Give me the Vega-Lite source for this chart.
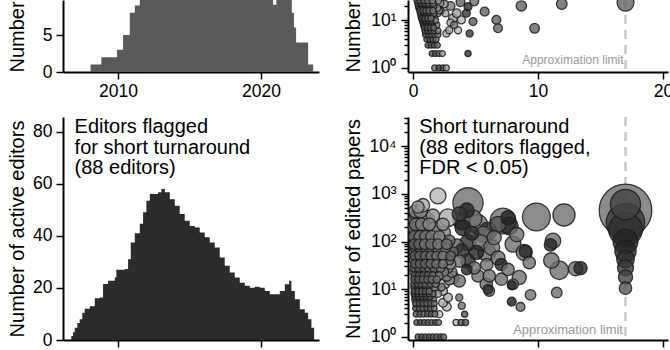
{
 "$schema": "https://vega.github.io/schema/vega-lite/v6.json",
 "background": "white",
 "padding": {"left": 7, "top": -4, "right": 0, "bottom": 0},
 "config": {
  "view": {"stroke": null},
  "font": "Liberation Sans",
  "axis": {"domainColor": "#000", "domainWidth": 2, "tickColor": "#000", "tickWidth": 1.5, "tickSize": 7, "labelFontSize": 17.5, "labelColor": "#000", "labelFont": "Liberation Sans", "titleFont": "Liberation Sans", "titleFontSize": 20, "titleFontWeight": "normal", "titleColor": "#000", "grid": false, "labelFlush": false, "labelOverlap": false}
 },
 "datasets": {
  "tl": [{"year":2008.08,"n":1},{"year":2008.83,"n":2},{"year":2009.93,"n":3},{"year":2010.35,"n":5},{"year":2010.82,"n":8},{"year":2011.17,"n":9},{"year":2011.52,"n":12},{"year":2012.0,"n":16},{"year":2013.0,"n":19},{"year":2014.5,"n":21},{"year":2016.0,"n":20},{"year":2018.0,"n":18},{"year":2020.0,"n":15},{"year":2020.84,"n":9.1},{"year":2021.07,"n":14},{"year":2022.15,"n":8},{"year":2022.3,"n":6},{"year":2022.45,"n":4},{"year":2023.29,"n":1},{"year":2023.64,"n":0}],
  "bl": [{"year":2006.73,"n":1.5},{"year":2006.85,"n":3},{"year":2006.97,"n":4.7},{"year":2007.15,"n":6.5},{"year":2007.32,"n":8},{"year":2007.5,"n":10.5},{"year":2007.67,"n":12},{"year":2008.02,"n":13},{"year":2008.37,"n":16},{"year":2008.72,"n":16.3},{"year":2008.95,"n":21.5},{"year":2009.3,"n":22.7},{"year":2009.77,"n":24},{"year":2009.88,"n":27},{"year":2010.47,"n":27.3},{"year":2010.7,"n":31},{"year":2010.89,"n":37.4},{"year":2011.17,"n":41},{"year":2011.52,"n":44.6},{"year":2011.75,"n":49},{"year":2011.98,"n":53.5},{"year":2012.22,"n":56},{"year":2012.8,"n":56.7},{"year":2013.03,"n":58},{"year":2013.27,"n":56.7},{"year":2013.62,"n":54},{"year":2013.97,"n":51.5},{"year":2014.31,"n":48.4},{"year":2014.66,"n":45.8},{"year":2015.01,"n":43.8},{"year":2015.36,"n":43.2},{"year":2015.71,"n":41.3},{"year":2016.06,"n":39.4},{"year":2016.41,"n":37.4},{"year":2016.76,"n":35.5},{"year":2017.11,"n":31.7},{"year":2017.46,"n":28.5},{"year":2017.81,"n":25.9},{"year":2018.16,"n":24},{"year":2018.51,"n":22},{"year":2018.86,"n":20.8},{"year":2019.21,"n":20.1},{"year":2019.56,"n":20.4},{"year":2019.91,"n":20.1},{"year":2020.26,"n":18.8},{"year":2020.61,"n":17.6},{"year":2020.96,"n":17.6},{"year":2021.31,"n":18.8},{"year":2021.66,"n":21.4},{"year":2021.96,"n":22.7},{"year":2022.12,"n":18.8},{"year":2022.36,"n":15.6},{"year":2022.71,"n":11.8},{"year":2023.06,"n":10.5},{"year":2023.29,"n":8},{"year":2023.52,"n":4.7},{"year":2023.71,"n":0}],
  "tr": [
   {"x":1.73,"y":1,"w":11,"t":0.5},{"x":2.08,"y":1,"w":11,"t":0.7},{"x":2.4,"y":1,"w":11,"t":0.7},{"x":2.67,"y":1,"w":11,"t":0.3},
   {"x":1.52,"y":2,"w":11,"t":0.6},{"x":1.79,"y":2,"w":11,"t":0.6},{"x":2.08,"y":2,"w":11,"t":0.5},{"x":2.35,"y":2,"w":11,"t":0.25},{"x":4.4,"y":2,"w":12,"t":0.75},
   {"x":1.2,"y":3,"w":11,"t":0.65},{"x":1.45,"y":3,"w":11,"t":0.6},{"x":1.7,"y":3,"w":11,"t":0.6},{"x":1.95,"y":3,"w":11,"t":0.5},
   {"x":1.1,"y":4,"w":11,"t":0.65},{"x":1.35,"y":4,"w":11,"t":0.6},{"x":1.6,"y":4,"w":11,"t":0.55},{"x":1.85,"y":4,"w":11,"t":0.5},
   {"x":1.0,"y":5,"w":11,"t":0.65},{"x":1.25,"y":5,"w":11,"t":0.6},{"x":1.5,"y":5,"w":11,"t":0.55},{"x":1.75,"y":5,"w":11,"t":0.5},{"x":2.0,"y":5,"w":11,"t":0.45},
   {"x":0.95,"y":6,"w":11,"t":0.65},{"x":1.2,"y":6,"w":11,"t":0.6},{"x":1.45,"y":6,"w":11,"t":0.55},{"x":1.7,"y":6,"w":11,"t":0.5},{"x":2.0,"y":6,"w":11,"t":0.45},
   {"x":0.9,"y":7,"w":11,"t":0.65},{"x":1.15,"y":7,"w":11,"t":0.6},{"x":1.4,"y":7,"w":11,"t":0.55},{"x":1.65,"y":7,"w":11,"t":0.5},
   {"x":0.85,"y":8,"w":12,"t":0.65},{"x":1.1,"y":8,"w":12,"t":0.6},{"x":1.35,"y":8,"w":12,"t":0.55},{"x":1.6,"y":8,"w":12,"t":0.5},{"x":1.9,"y":8,"w":12,"t":0.45},
   {"x":0.8,"y":9,"w":12,"t":0.65},{"x":1.05,"y":9,"w":12,"t":0.6},{"x":1.3,"y":9,"w":12,"t":0.55},{"x":1.55,"y":9,"w":12,"t":0.5},
   {"x":0.75,"y":10,"w":12,"t":0.65},{"x":1.0,"y":10,"w":12,"t":0.6},{"x":1.25,"y":10,"w":12,"t":0.55},{"x":1.5,"y":10,"w":12,"t":0.5},{"x":1.8,"y":10,"w":12,"t":0.4},
   {"x":0.7,"y":11,"w":12,"t":0.65},{"x":0.95,"y":11,"w":12,"t":0.6},{"x":1.2,"y":11,"w":12,"t":0.55},{"x":1.45,"y":11,"w":12,"t":0.5},
   {"x":0.65,"y":12,"w":13,"t":0.65},{"x":0.9,"y":12,"w":13,"t":0.6},{"x":1.15,"y":12,"w":13,"t":0.55},{"x":1.4,"y":12,"w":13,"t":0.5},{"x":1.7,"y":12,"w":13,"t":0.4},
   {"x":0.6,"y":14,"w":13,"t":0.65},{"x":0.85,"y":14,"w":13,"t":0.6},{"x":1.1,"y":14,"w":13,"t":0.55},{"x":1.35,"y":14,"w":13,"t":0.5},{"x":1.65,"y":14,"w":13,"t":0.45},{"x":2.0,"y":14,"w":14,"t":0.35},
   {"x":0.55,"y":16,"w":13,"t":0.65},{"x":0.8,"y":16,"w":13,"t":0.6},{"x":1.05,"y":16,"w":13,"t":0.55},{"x":1.3,"y":16,"w":13,"t":0.5},{"x":1.6,"y":16,"w":13,"t":0.45},{"x":2.1,"y":16,"w":14,"t":0.35},
   {"x":0.5,"y":18,"w":14,"t":0.65},{"x":0.75,"y":18,"w":14,"t":0.6},{"x":1.0,"y":18,"w":14,"t":0.55},{"x":1.3,"y":18,"w":14,"t":0.5},{"x":1.6,"y":18,"w":14,"t":0.45},{"x":1.95,"y":18,"w":14,"t":0.35},
   {"x":0.45,"y":20,"w":14,"t":0.65},{"x":0.7,"y":20,"w":14,"t":0.6},{"x":1.0,"y":20,"w":14,"t":0.55},{"x":1.3,"y":20,"w":14,"t":0.5},{"x":1.65,"y":20,"w":14,"t":0.45},
   {"x":0.4,"y":23,"w":14,"t":0.65},{"x":0.65,"y":23,"w":14,"t":0.6},{"x":0.95,"y":23,"w":14,"t":0.55},{"x":1.25,"y":23,"w":14,"t":0.5},{"x":1.6,"y":23,"w":14,"t":0.45},{"x":2.2,"y":23,"w":16,"t":0.35},
   {"x":0.35,"y":26,"w":14,"t":0.65},{"x":0.6,"y":26,"w":14,"t":0.6},{"x":0.9,"y":26,"w":14,"t":0.55},{"x":1.2,"y":26,"w":14,"t":0.5},{"x":1.55,"y":26,"w":14,"t":0.45},{"x":2.0,"y":26,"w":16,"t":0.35},
   {"x":2.67,"y":5.3,"w":16,"t":0.25},{"x":2.9,"y":6.2,"w":16,"t":0.3},{"x":3.6,"y":6.2,"w":16,"t":0.2},{"x":3.87,"y":10.2,"w":20,"t":0.2},{"x":3.2,"y":11,"w":25,"t":0.25},{"x":3.5,"y":14,"w":25,"t":0.3},{"x":2.6,"y":14,"w":16,"t":0.3},{"x":3.0,"y":9,"w":16,"t":0.25},{"x":3.3,"y":8,"w":16,"t":0.5},{"x":2.2,"y":16,"w":16,"t":0.35},
   {"x":4.53,"y":5.3,"w":16,"t":0.75},{"x":4.8,"y":9.4,"w":20,"t":0.6},{"x":4.27,"y":14,"w":20,"t":0.75},{"x":4.4,"y":19.3,"w":20,"t":0.8},{"x":4.9,"y":25,"w":25,"t":0.5},{"x":5.73,"y":15.2,"w":25,"t":0.55},{"x":6.67,"y":10.2,"w":25,"t":0.55},{"x":6.8,"y":6.8,"w":25,"t":0.55},{"x":8.67,"y":20,"w":34,"t":0.55},{"x":9.73,"y":6.8,"w":30,"t":0.55},{"x":11.9,"y":22,"w":36,"t":0.55},{"x":17,"y":23.4,"w":90,"t":0.55},{"x":2.5,"y":22,"w":20,"t":0.3},{"x":3.0,"y":20,"w":25,"t":0.45},{"x":3.8,"y":24,"w":25,"t":0.55}
  ],
  "br": [
   {"x":17,"y":450,"w":880,"t":0.5},{"x":17,"y":250,"w":470,"t":0.75},{"x":17,"y":180,"w":360,"t":0.8},{"x":17,"y":600,"w":290,"t":0.7},{"x":17,"y":100,"w":196,"t":0.85},{"x":17,"y":63,"w":144,"t":0.85},{"x":17,"y":43,"w":100,"t":0.8},{"x":17,"y":28,"w":81,"t":0.75},{"x":17,"y":18,"w":64,"t":0.7},{"x":17,"y":10.5,"w":49,"t":0.6},
   {"x":4.4,"y":650,"w":289,"t":0.5},{"x":4.3,"y":450,"w":70,"t":0.85},{"x":3.9,"y":270,"w":100,"t":0.85},{"x":4.0,"y":195,"w":81,"t":0.85},{"x":2.8,"y":316,"w":100,"t":0.25},{"x":2.0,"y":910,"w":81,"t":0.2},{"x":3.7,"y":380,"w":64,"t":0.75},{"x":4.4,"y":95,"w":81,"t":0.8},{"x":3.5,"y":81,"w":64,"t":0.55},{"x":3.9,"y":63,"w":64,"t":0.8},{"x":4.4,"y":39,"w":64,"t":0.8},{"x":3.7,"y":39,"w":49,"t":0.5},{"x":4.3,"y":26,"w":36,"t":0.85},{"x":3.2,"y":17.5,"w":49,"t":0.5},{"x":3.7,"y":15,"w":49,"t":0.5},{"x":3.7,"y":6.7,"w":16,"t":0.5},{"x":3.9,"y":4.5,"w":16,"t":0.5},
   {"x":5.2,"y":230,"w":121,"t":0.5},{"x":5.6,"y":142,"w":81,"t":0.5},{"x":6.0,"y":167,"w":100,"t":0.8},{"x":5.4,"y":95,"w":81,"t":0.5},{"x":5.07,"y":59,"w":64,"t":0.85},{"x":5.9,"y":59,"w":100,"t":0.5},{"x":5.2,"y":19,"w":49,"t":0.5},{"x":5.9,"y":33,"w":49,"t":0.5},{"x":5.86,"y":12.7,"w":49,"t":0.5},{"x":6.1,"y":9.2,"w":36,"t":0.5},{"x":6.0,"y":10,"w":30,"t":0.8},{"x":6.1,"y":19,"w":49,"t":0.5},{"x":6.5,"y":121,"w":64,"t":0.5},{"x":7.06,"y":33,"w":49,"t":0.85},{"x":7.07,"y":16.2,"w":49,"t":0.5},{"x":7.2,"y":270,"w":210,"t":0.5},{"x":7.7,"y":213,"w":100,"t":0.85},{"x":7.6,"y":316,"w":64,"t":0.85},{"x":7.6,"y":26,"w":49,"t":0.5},{"x":8.0,"y":88,"w":81,"t":0.5},{"x":8.0,"y":12.7,"w":36,"t":0.5},{"x":7.9,"y":12,"w":25,"t":0.85},{"x":8.5,"y":17.6,"w":64,"t":0.5},{"x":8.9,"y":59,"w":81,"t":0.5},{"x":9.0,"y":62,"w":49,"t":0.85},{"x":9.3,"y":36,"w":49,"t":0.5},{"x":7.9,"y":5.5,"w":25,"t":0.9},{"x":8.6,"y":4.25,"w":25,"t":0.5},{"x":9.4,"y":7.6,"w":36,"t":0.5},{"x":9.87,"y":328,"w":246,"t":0.5},{"x":12.08,"y":362,"w":156,"t":0.5},{"x":11.2,"y":103,"w":76,"t":0.5},{"x":11.0,"y":85,"w":49,"t":0.85},{"x":11.07,"y":40,"w":77,"t":0.5},{"x":11.7,"y":25,"w":110,"t":0.5},{"x":13.0,"y":27,"w":64,"t":0.5},{"x":13.4,"y":27.6,"w":56,"t":0.85},{"x":11.5,"y":8.5,"w":36,"t":0.5},
   {"x":4.8,"y":300,"w":100,"t":0.5},{"x":6.3,"y":75,"w":81,"t":0.5},{"x":4.7,"y":150,"w":64,"t":0.8},{"x":6.8,"y":45,"w":64,"t":0.5},{"x":4.9,"y":28,"w":49,"t":0.5},{"x":8.3,"y":140,"w":64,"t":0.5},{"x":6.8,"y":230,"w":81,"t":0.6},
   {"x":0.4,"y":1,"w":11,"t":0.6},{"x":0.7,"y":1,"w":11,"t":0.65},{"x":1.0,"y":1,"w":11,"t":0.6},{"x":1.3,"y":1,"w":11,"t":0.65},{"x":1.6,"y":1,"w":11,"t":0.6},{"x":1.9,"y":1,"w":11,"t":0.55},{"x":2.2,"y":1,"w":11,"t":0.6},{"x":2.45,"y":1,"w":11,"t":0.5},
   {"x":0.3,"y":2,"w":11,"t":0.6},{"x":0.6,"y":2,"w":11,"t":0.65},{"x":0.9,"y":2,"w":11,"t":0.6},{"x":1.2,"y":2,"w":11,"t":0.6},{"x":1.5,"y":2,"w":11,"t":0.55},{"x":1.8,"y":2,"w":11,"t":0.6},{"x":2.05,"y":2,"w":11,"t":0.45},{"x":3.45,"y":2,"w":12,"t":0.2},{"x":3.85,"y":2,"w":12,"t":0.6},{"x":4.2,"y":2,"w":12,"t":0.6},
   {"x":0.25,"y":3,"w":11,"t":0.6},{"x":0.55,"y":3,"w":11,"t":0.6},{"x":0.85,"y":3,"w":11,"t":0.55},{"x":1.15,"y":3,"w":11,"t":0.6},{"x":1.45,"y":3,"w":11,"t":0.6},{"x":1.75,"y":3,"w":11,"t":0.5},{"x":2.1,"y":3,"w":16,"t":0.2},{"x":4.13,"y":3,"w":12,"t":0.6},
   {"x":0.2,"y":4,"w":11,"t":0.65},{"x":0.5,"y":4,"w":11,"t":0.6},{"x":0.8,"y":4,"w":11,"t":0.55},{"x":1.1,"y":4,"w":11,"t":0.6},{"x":1.4,"y":4,"w":11,"t":0.55},{"x":1.7,"y":4,"w":11,"t":0.5},{"x":2.7,"y":4.3,"w":25,"t":0.2},
   {"x":0.2,"y":5,"w":11,"t":0.6},{"x":0.5,"y":5,"w":11,"t":0.6},{"x":0.8,"y":5,"w":11,"t":0.6},{"x":1.1,"y":5,"w":11,"t":0.55},{"x":1.4,"y":5,"w":11,"t":0.55},{"x":1.7,"y":5,"w":11,"t":0.5},{"x":2.4,"y":5.2,"w":25,"t":0.25},
   {"x":0.15,"y":6,"w":12,"t":0.65},{"x":0.45,"y":6,"w":12,"t":0.6},{"x":0.75,"y":6,"w":12,"t":0.55},{"x":1.05,"y":6,"w":12,"t":0.6},{"x":1.35,"y":6,"w":12,"t":0.5},{"x":1.65,"y":6,"w":12,"t":0.5},
   {"x":0.15,"y":7,"w":12,"t":0.6},{"x":0.45,"y":7,"w":12,"t":0.6},{"x":0.75,"y":7,"w":12,"t":0.55},{"x":1.05,"y":7,"w":12,"t":0.55},{"x":1.35,"y":7,"w":12,"t":0.5},{"x":2.8,"y":6.7,"w":25,"t":0.25},
   {"x":0.1,"y":8,"w":12,"t":0.65},{"x":0.4,"y":8,"w":12,"t":0.6},{"x":0.7,"y":8,"w":12,"t":0.55},{"x":1.0,"y":8,"w":12,"t":0.6},{"x":1.3,"y":8,"w":12,"t":0.5},{"x":1.6,"y":8,"w":12,"t":0.5},{"x":2.0,"y":8,"w":16,"t":0.3},
   {"x":0.1,"y":9,"w":12,"t":0.6},{"x":0.4,"y":9,"w":12,"t":0.6},{"x":0.7,"y":9,"w":12,"t":0.55},{"x":1.0,"y":9,"w":12,"t":0.55},{"x":1.3,"y":9,"w":12,"t":0.5},{"x":2.4,"y":9.2,"w":25,"t":0.25},
   {"x":0.1,"y":11,"w":16,"t":0.65},{"x":0.4,"y":11,"w":16,"t":0.6},{"x":0.7,"y":11,"w":16,"t":0.55},{"x":1.0,"y":11,"w":16,"t":0.55},{"x":1.3,"y":11,"w":16,"t":0.55},{"x":1.7,"y":11,"w":16,"t":0.5},{"x":2.3,"y":11,"w":16,"t":0.4},
   {"x":0.1,"y":13,"w":16,"t":0.6},{"x":0.4,"y":13,"w":16,"t":0.6},{"x":0.7,"y":13,"w":16,"t":0.55},{"x":1.0,"y":13,"w":16,"t":0.55},{"x":1.4,"y":13,"w":16,"t":0.55},{"x":1.8,"y":13,"w":16,"t":0.5},{"x":2.5,"y":13,"w":36,"t":0.3},
   {"x":0.1,"y":16,"w":16,"t":0.65},{"x":0.45,"y":16,"w":16,"t":0.6},{"x":0.8,"y":16,"w":16,"t":0.55},{"x":1.15,"y":16,"w":16,"t":0.55},{"x":1.5,"y":16,"w":16,"t":0.5},{"x":1.9,"y":16,"w":16,"t":0.5},{"x":2.9,"y":16,"w":36,"t":0.35},
   {"x":0.15,"y":19,"w":20,"t":0.6},{"x":0.5,"y":19,"w":20,"t":0.6},{"x":0.85,"y":19,"w":20,"t":0.55},{"x":1.2,"y":19,"w":20,"t":0.55},{"x":1.6,"y":19,"w":20,"t":0.5},{"x":2.1,"y":19,"w":20,"t":0.45},{"x":2.7,"y":19,"w":36,"t":0.45},
   {"x":0.1,"y":23,"w":25,"t":0.6},{"x":0.45,"y":23,"w":25,"t":0.6},{"x":0.8,"y":23,"w":25,"t":0.55},{"x":1.2,"y":23,"w":25,"t":0.55},{"x":1.6,"y":23,"w":25,"t":0.5},{"x":2.0,"y":23,"w":25,"t":0.5},{"x":2.5,"y":23,"w":25,"t":0.45},{"x":3.1,"y":23,"w":36,"t":0.45},
   {"x":0.1,"y":28,"w":25,"t":0.6},{"x":0.5,"y":28,"w":25,"t":0.55},{"x":0.9,"y":28,"w":25,"t":0.55},{"x":1.3,"y":28,"w":25,"t":0.5},{"x":1.7,"y":28,"w":25,"t":0.5},{"x":2.2,"y":28,"w":25,"t":0.45},{"x":2.8,"y":28,"w":36,"t":0.5},
   {"x":0.15,"y":34,"w":25,"t":0.6},{"x":0.55,"y":34,"w":25,"t":0.55},{"x":0.95,"y":34,"w":25,"t":0.55},{"x":1.4,"y":34,"w":25,"t":0.5},{"x":1.85,"y":34,"w":25,"t":0.5},{"x":2.4,"y":34,"w":25,"t":0.45},{"x":3.0,"y":34,"w":36,"t":0.35},
   {"x":0.1,"y":41,"w":30,"t":0.6},{"x":0.5,"y":41,"w":30,"t":0.55},{"x":0.9,"y":41,"w":30,"t":0.55},{"x":1.35,"y":41,"w":30,"t":0.5},{"x":1.8,"y":41,"w":30,"t":0.5},{"x":2.3,"y":41,"w":30,"t":0.45},{"x":2.9,"y":41,"w":30,"t":0.5},
   {"x":0.15,"y":50,"w":30,"t":0.6},{"x":0.55,"y":50,"w":30,"t":0.55},{"x":1.0,"y":50,"w":30,"t":0.55},{"x":1.45,"y":50,"w":30,"t":0.5},{"x":1.9,"y":50,"w":30,"t":0.5},{"x":2.4,"y":50,"w":30,"t":0.45},{"x":3.0,"y":50,"w":30,"t":0.55},
   {"x":0.1,"y":60,"w":36,"t":0.6},{"x":0.5,"y":60,"w":36,"t":0.55},{"x":0.95,"y":60,"w":36,"t":0.5},{"x":1.4,"y":60,"w":36,"t":0.5},{"x":1.9,"y":60,"w":36,"t":0.5},{"x":2.5,"y":60,"w":36,"t":0.45},{"x":3.2,"y":60,"w":36,"t":0.55},
   {"x":0.2,"y":73,"w":36,"t":0.6},{"x":0.6,"y":73,"w":36,"t":0.55},{"x":1.05,"y":73,"w":36,"t":0.5},{"x":1.5,"y":73,"w":36,"t":0.5},{"x":2.0,"y":73,"w":36,"t":0.45},{"x":2.6,"y":73,"w":36,"t":0.5},
   {"x":0.1,"y":88,"w":36,"t":0.6},{"x":0.5,"y":88,"w":36,"t":0.55},{"x":0.95,"y":88,"w":36,"t":0.5},{"x":1.45,"y":88,"w":36,"t":0.5},{"x":2.0,"y":88,"w":36,"t":0.45},{"x":2.7,"y":88,"w":36,"t":0.5},
   {"x":0.2,"y":105,"w":42,"t":0.55},{"x":0.65,"y":105,"w":42,"t":0.5},{"x":1.1,"y":105,"w":42,"t":0.5},{"x":1.6,"y":105,"w":42,"t":0.45},{"x":2.2,"y":105,"w":42,"t":0.45},{"x":2.9,"y":105,"w":42,"t":0.55},
   {"x":0.1,"y":128,"w":42,"t":0.55},{"x":0.55,"y":128,"w":42,"t":0.5},{"x":1.0,"y":128,"w":42,"t":0.5},{"x":1.5,"y":128,"w":42,"t":0.45},{"x":2.1,"y":128,"w":42,"t":0.4},
   {"x":0.2,"y":155,"w":49,"t":0.55},{"x":0.7,"y":155,"w":49,"t":0.5},{"x":1.2,"y":155,"w":49,"t":0.45},{"x":1.8,"y":155,"w":49,"t":0.45},{"x":2.5,"y":155,"w":49,"t":0.4},
   {"x":0.1,"y":190,"w":49,"t":0.55},{"x":0.55,"y":190,"w":49,"t":0.5},{"x":1.05,"y":190,"w":49,"t":0.45},{"x":1.7,"y":190,"w":49,"t":0.4},
   {"x":0.2,"y":230,"w":49,"t":0.5},{"x":0.7,"y":230,"w":49,"t":0.45},{"x":1.3,"y":230,"w":49,"t":0.4},{"x":2.4,"y":230,"w":49,"t":0.35},
   {"x":0.15,"y":290,"w":56,"t":0.5},{"x":0.6,"y":290,"w":56,"t":0.45},{"x":1.2,"y":290,"w":56,"t":0.4},
   {"x":0.3,"y":350,"w":56,"t":0.45},{"x":0.9,"y":350,"w":56,"t":0.4},{"x":1.6,"y":350,"w":56,"t":0.35},
   {"x":0.2,"y":430,"w":56,"t":0.45},{"x":0.6,"y":430,"w":56,"t":0.4},{"x":0.4,"y":530,"w":49,"t":0.35},{"x":0.8,"y":580,"w":56,"t":0.25}
  ]
 },
 "spacing": 8,
 "vconcat": [
  {"spacing": 24, "hconcat": [
   {"width": 256, "height": 72, "data": {"name": "tl"},
    "mark": {"type": "area", "interpolate": "step-after", "color": "#5a5a5a", "clip": true},
    "encoding": {
     "x": {"field": "year", "type": "quantitative", "scale": {"domain": [2006.15, 2024.05], "nice": false, "zero": false}, "axis": {"values": [2010, 2020], "format": "d", "title": null, "labelPadding": 3}},
     "y": {"field": "n", "type": "quantitative", "scale": {"domain": [0, 9.73], "nice": false}, "axis": {"values": [0, 5], "title": "Number", "titleAnchor": "start", "minExtent": 31, "maxExtent": 31, "labelPadding": 4, "titlePadding": 4.5}}
    }},
   {"width": 260, "height": 72, "layer": [
    {"data": {"values": [{}]}, "mark": {"type": "rule", "color": "#c8c8c8", "strokeWidth": 2.5, "strokeDash": [9, 6]}, "encoding": {"x": {"datum": 17}}},
    {"data": {"name": "tr"}, "mark": {"type": "circle", "stroke": "#1c1c1c", "strokeWidth": 1.3, "strokeOpacity": 0.85, "fillOpacity": 0.8, "clip": true},
     "encoding": {
      "x": {"field": "x", "type": "quantitative", "scale": {"domain": [-0.4, 20.4], "nice": false, "zero": false}, "axis": {"values": [0, 10, 20], "title": null, "labelPadding": 3}},
      "y": {"field": "y", "type": "quantitative", "scale": {"type": "log", "domain": [0.82, 26.7], "nice": false}, "axis": {"title": "Number", "titleAnchor": "start", "values": [1,2,3,4,5,6,7,8,9,10,20], "labelExpr": "datum.value == 1 ? '10⁰' : datum.value == 10 ? '10¹' : ''", "tickSize": {"condition": {"test": "datum.value == 1 || datum.value == 10", "value": 7}, "value": 4}, "minExtent": 38, "maxExtent": 38, "labelPadding": 5, "titlePadding": 7}},
      "size": {"field": "w", "type": "quantitative", "scale": {"type": "linear", "domain": [0, 900], "range": [0, 2827]}, "legend": null},
      "color": {"field": "t", "type": "quantitative", "scale": {"domain": [0, 1], "range": ["#ececec", "#000000"]}, "legend": null},
      "order": {"field": "w", "sort": "descending"}
     }},
    {"data": {"values": [{}]}, "mark": {"type": "text", "text": "Approximation limit", "align": "right", "baseline": "alphabetic", "fontSize": 12, "color": "#999999"}, "encoding": {"x": {"datum": 16.85}, "y": {"datum": 1.18}}}
   ]}
  ]},
  {"spacing": 24, "hconcat": [
   {"width": 256, "height": 223, "layer": [
    {"data": {"name": "bl"}, "mark": {"type": "area", "interpolate": "step-after", "color": "#2b2b2b"},
     "encoding": {
      "x": {"field": "year", "type": "quantitative", "scale": {"domain": [2006.15, 2024.05], "nice": false, "zero": false}, "axis": {"values": [2010, 2020], "labels": false, "title": null}},
      "y": {"field": "n", "type": "quantitative", "scale": {"domain": [0, 85.6], "nice": false}, "axis": {"values": [0, 20, 40, 60, 80], "title": "Number of active editors", "minExtent": 31, "maxExtent": 31, "labelPadding": 4, "titlePadding": 4.5}}
     }},
    {"data": {"values": [{}]}, "mark": {"type": "text", "text": ["Editors flagged", "for short turnaround", "(88 editors)"], "align": "left", "baseline": "top", "fontSize": 20, "lineHeight": 20.5, "color": "#000000"}, "encoding": {"x": {"datum": 2006.96}, "y": {"datum": 85.6}}}
   ]},
   {"width": 260, "height": 223, "layer": [
    {"data": {"values": [{}]}, "mark": {"type": "rule", "color": "#c8c8c8", "strokeWidth": 2.5, "strokeDash": [9, 6]}, "encoding": {"x": {"datum": 17}}},
    {"data": {"name": "br"}, "mark": {"type": "circle", "stroke": "#1c1c1c", "strokeWidth": 1.3, "strokeOpacity": 0.85, "fillOpacity": 0.8, "clip": true},
     "encoding": {
      "x": {"field": "x", "type": "quantitative", "scale": {"domain": [-0.4, 20.4], "nice": false, "zero": false}, "axis": {"values": [0, 10, 20], "labels": false, "title": null}},
      "y": {"field": "y", "type": "quantitative", "scale": {"type": "log", "domain": [0.86, 41000], "nice": false}, "axis": {"title": "Number of edited papers", "values": [1,2,3,4,5,6,7,8,9,10,20,30,40,50,60,70,80,90,100,200,300,400,500,600,700,800,900,1000,2000,3000,4000,5000,6000,7000,8000,9000,10000,20000,30000,40000], "labelExpr": "datum.value == 1 ? '10⁰' : datum.value == 10 ? '10¹' : datum.value == 100 ? '10²' : datum.value == 1000 ? '10³' : datum.value == 10000 ? '10⁴' : ''", "tickSize": {"condition": {"test": "datum.value == 1 || datum.value == 10 || datum.value == 100 || datum.value == 1000 || datum.value == 10000", "value": 7}, "value": 4}, "minExtent": 38, "maxExtent": 38, "labelPadding": 5, "titlePadding": 7}},
      "size": {"field": "w", "type": "quantitative", "scale": {"type": "linear", "domain": [0, 900], "range": [0, 2827]}, "legend": null},
      "color": {"field": "t", "type": "quantitative", "scale": {"domain": [0, 1], "range": ["#ececec", "#000000"]}, "legend": null},
      "order": {"field": "w", "sort": "descending"}
     }},
    {"data": {"values": [{}]}, "mark": {"type": "text", "text": "Approximation limit", "align": "right", "baseline": "alphabetic", "fontSize": 13, "color": "#999999"}, "encoding": {"x": {"datum": 16.8}, "y": {"datum": 1.14}}},
    {"data": {"values": [{}]}, "mark": {"type": "text", "text": ["Short turnaround", "(88 editors flagged,", "FDR < 0.05)"], "align": "left", "baseline": "top", "fontSize": 20, "lineHeight": 20.5, "color": "#000000"}, "encoding": {"x": {"datum": 0.5}, "y": {"datum": 41000}}}
   ]}
  ]}
 ]
}
